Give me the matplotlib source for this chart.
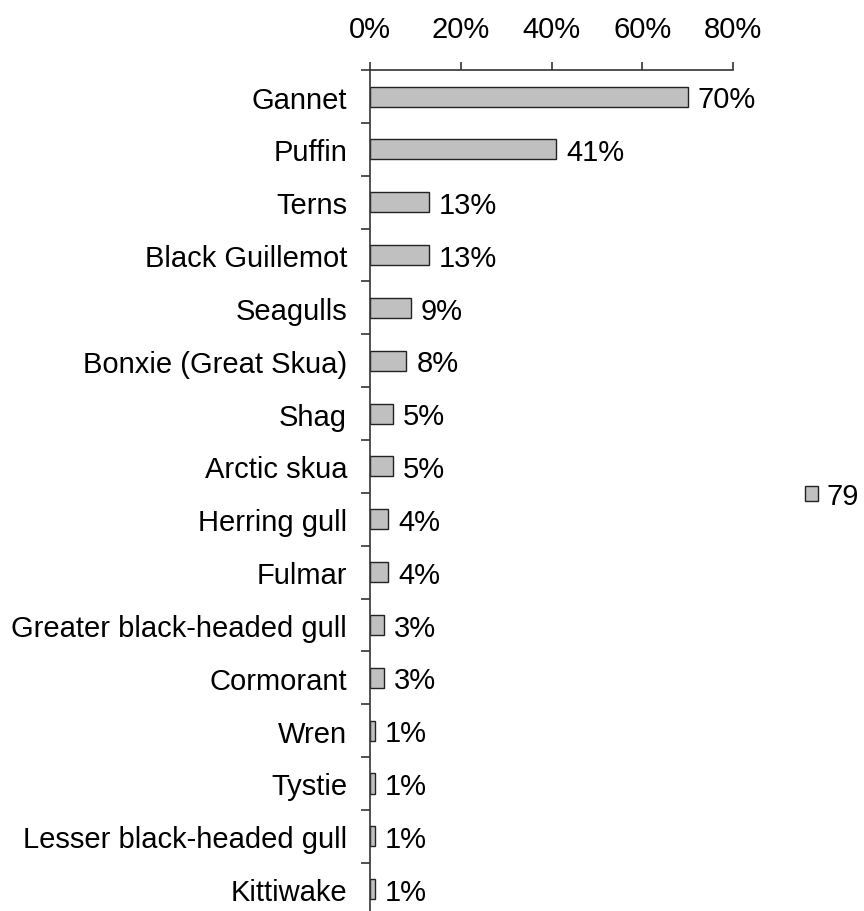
import matplotlib
matplotlib.use("Agg")
import matplotlib.pyplot as plt
from matplotlib.patches import Patch
import numpy as np

plt.rcParams['font.family'] = ['Liberation Sans', 'DejaVu Sans']

species = ["Gannet", "Puffin", "Terns", "Black Guillemot", "Seagulls",
           "Bonxie (Great Skua)", "Shag", "Arctic skua", "Herring gull",
           "Fulmar", "Greater black-headed gull", "Cormorant", "Wren",
           "Tystie", "Lesser black-headed gull", "Kittiwake"]
share = [70, 41, 13, 13, 9, 8, 5, 5, 4, 4, 3, 3, 1, 1, 1, 1]
xticks = [0, 20, 40, 60, 80]
series_name = "79"

FS = 21

fig = plt.figure(figsize=(8.64, 9.12), dpi=100)
ax = fig.add_axes([370/864, -0.005, (733-370)/864, 0.922 + 0.005])

y = np.arange(len(species))
ax.barh(y, share, height=0.38, color="#C0C0C0", edgecolor="#222222", linewidth=1.0)
for yi, v in zip(y, share):
    ax.text(v + 2.2, yi + 0.05, f"{v}%", va="center", ha="left", fontsize=FS, color="#000000")

ax.set_ylim(len(species) - 0.5, -0.5)
ax.set_xlim(0, 80)
ax.xaxis.tick_top()
ax.set_xticks(xticks)
ax.set_xticklabels([f"{t}%" for t in xticks], fontsize=FS)
ax.tick_params(axis="x", direction="out", length=6, width=1.2, pad=13.5, colors="#333333",
               labelcolor="#000000")

ax.set_yticks(np.arange(len(species) + 1) - 0.5)
ax.set_yticklabels([])
ax.set_yticks(y, minor=True)
ax.set_yticklabels(species, minor=True, fontsize=FS, color="#000000")
ax.tick_params(axis="y", which="major", direction="out", length=6.5, width=1.2, colors="#333333")
ax.tick_params(axis="y", which="minor", length=0, pad=16.5)

for s in ["right", "bottom"]:
    ax.spines[s].set_visible(False)
for s in ["top", "left"]:
    ax.spines[s].set_color("#333333")
    ax.spines[s].set_linewidth(1.2)

handle = Patch(facecolor="#C0C0C0", edgecolor="#222222", linewidth=1.0)
fig.legend([handle], [series_name], loc="center left", bbox_to_anchor=(805/864, 1 - 497/912),
           frameon=False, fontsize=FS, handlelength=0.45, handleheight=0.45,
           handletextpad=0.3, borderpad=0, borderaxespad=0)

fig.savefig("out.png", dpi=100)
